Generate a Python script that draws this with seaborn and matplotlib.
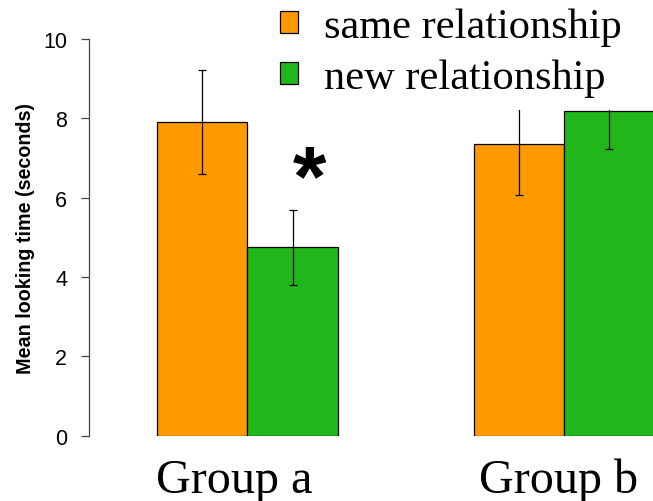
import matplotlib
matplotlib.use("Agg")
import matplotlib.pyplot as plt
import matplotlib.patches as mpatches
import matplotlib.transforms as mtransforms
import seaborn as sns
import pandas as pd

# Data
groups = ["Group a", "Group b"]
conditions = ["same relationship", "new relationship"]
same_means = [7.90, 7.36]
new_means = [4.75, 8.18]
same_err = [1.31, 1.29]
new_err = [0.95, 0.96]
y_ticks = [0, 2, 4, 6, 8, 10]

colors = ["#FF9900", "#21B71A"]

df = pd.DataFrame({
    "group": groups * 2,
    "condition": [conditions[0]] * 2 + [conditions[1]] * 2,
    "value": same_means + new_means,
})
errors = {conditions[0]: same_err, conditions[1]: new_err}

sns.set_theme(style="white")
plt.rcParams["font.family"] = ["Liberation Sans", "DejaVu Sans"]
plt.rcParams["text.color"] = "black"
plt.rcParams["axes.labelcolor"] = "black"
plt.rcParams["xtick.labelcolor"] = "black"
plt.rcParams["ytick.labelcolor"] = "black"

W, H = 653, 502
fig = plt.figure(figsize=(W / 100, H / 100), dpi=100)
ax = fig.add_axes([0.1368, 0.1301, 0.8632, 0.7902])

sns.barplot(
    data=df, x="group", y="value", hue="condition",
    order=groups, hue_order=conditions, palette=colors,
    width=0.5714, gap=0, errorbar=None, edgecolor="black",
    linewidth=0.9, saturation=1, legend=False, ax=ax,
)

# Error bars at the centres of the drawn bars
for cond, cont in zip(conditions, ax.containers):
    xs = [b.get_x() + b.get_width() / 2 for b in cont]
    ys = [b.get_height() for b in cont]
    ax.errorbar(xs, ys, yerr=errors[cond], fmt="none", ecolor="black",
                elinewidth=0.9, capsize=2.9, capthick=0.9, zorder=3)

ax.set_xlim(-0.499, 1.281)
ax.set_ylim(0, 10)
ax.set_yticks(y_ticks)
ax.set_yticklabels([str(t) for t in y_ticks], fontsize=15.5)
ax.set_xlabel("")
ax.set_ylabel("Mean looking time (seconds)", fontsize=14.2,
              fontweight="bold", labelpad=6)

for s in ["top", "right", "bottom"]:
    ax.spines[s].set_visible(False)
ax.spines["left"].set_color("#444444")
ax.spines["left"].set_linewidth(0.9)
ax.spines["left"].set_bounds(0, 10)
ax.tick_params(axis="y", which="both", left=True, length=6, width=0.9,
               color="#444444", pad=10)
ax.tick_params(axis="x", length=0, pad=16)
for lab, dx in zip(ax.get_xticklabels(), [-13, -5]):
    lab.set_fontfamily(["Liberation Serif", "DejaVu Serif"])
    lab.set_fontsize(34.7)
    lab.set_transform(lab.get_transform() +
                      mtransforms.ScaledTranslation(dx / 100, 0, fig.dpi_scale_trans))

# Significance marker
ax.text(0.197, 6.39, "*", ha="center", va="center", fontsize=62,
        fontweight="bold", color="black")

# White panel behind the legend (covers whatever sits under it)
fig.add_artist(mpatches.Rectangle((270 / W, 1 - 111 / H), 1 - 270 / W, 111 / H,
                                  transform=fig.transFigure, facecolor="white",
                                  edgecolor="none", zorder=4))

# Legend
handles = [mpatches.Patch(facecolor=c, edgecolor="black", linewidth=0.9)
           for c in colors]
leg = fig.legend(handles, conditions, loc="upper left",
                 bbox_to_anchor=(272 / W, 1.0), frameon=False,
                 prop={"family": ["Liberation Serif", "DejaVu Serif"], "size": 30.5},
                 handlelength=0.42, handleheight=0.42, handletextpad=0.6,
                 labelspacing=0.3, borderpad=0.2, borderaxespad=0.0)
leg.set_zorder(5)

fig.savefig("out.png", dpi=100)
